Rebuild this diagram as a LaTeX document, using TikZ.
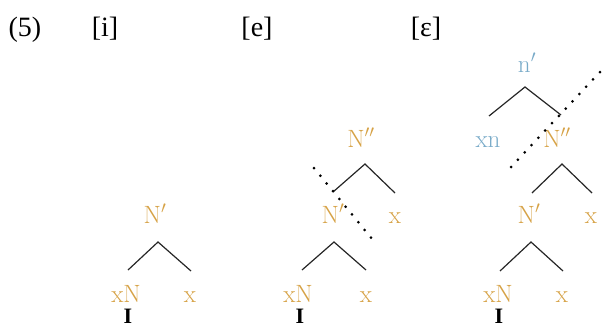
\documentclass[tikz,border=0pt]{standalone}
\usepackage{fontspec}
\newfontfamily\timesf{Liberation Serif}
\definecolor{ornC}{RGB}{214,162,70}
\definecolor{bluC}{RGB}{120,170,200}
\begin{document}
\begin{tikzpicture}[x=1pt,y=-1pt,
  lab/.style={anchor=base, inner sep=0pt, font=\fontsize{25}{25}\selectfont},
  orn/.style={lab, text=ornC},
  blu/.style={lab, text=bluC},
  hdr/.style={anchor=base, inner sep=0pt, font=\timesf\fontsize{28}{28}\selectfont},
  bar/.style={anchor=base, inner sep=0pt, font=\timesf\bfseries\fontsize{22}{22}\selectfont},
  branch/.style={line width=1.2pt, draw=black!85},
  dotline/.style={line width=3pt, line cap=round, dash pattern=on 0pt off 10pt}
]
\useasboundingbox (0,0) rectangle (603,327);
% header
\node[hdr] (h5) at (25,36) {(5)};
\node[hdr] (hi) at (105,36) {[i]};
\node[hdr] (he) at (257,36) {[e]};
\node[hdr] (heps) at (426,36) {[ε]};

% tree [i]
\node[orn] (Np1) at (155,223) {N$'$};
\node[orn] (xN1) at (126,302) {xN};
\node[orn] (x1) at (190,302) {x};
\node[bar] (I1) at (128,323) {I};
\coordinate (a1) at (158,242);
\coordinate (l1) at (128,270);
\coordinate (r1) at (191,271);
\draw[branch] (l1) -- (a1) -- (r1);

% tree [e]
\node[orn] (Npp2) at (361,147) {N$''$};
\node[orn] (Np2) at (333,223) {N$'$};
\node[orn] (x2a) at (395,223) {x};
\node[orn] (xN2) at (298,302) {xN};
\node[orn] (x2b) at (366,302) {x};
\node[bar] (I2) at (300,323) {I};
\coordinate (a2) at (365,164);
\coordinate (l2) at (333,192);
\coordinate (r2) at (395,193);
\draw[branch] (l2) -- (a2) -- (r2);
\coordinate (b2) at (334,242);
\coordinate (m2) at (302,270);
\coordinate (n2) at (366,270);
\draw[branch] (m2) -- (b2) -- (n2);
\coordinate (d2s) at (314,168);
\coordinate (d2e) at (377,245);
\draw[dotline] (d2s) -- (d2e);

% tree [epsilon]
\node[blu] (np3) at (527,72) {n$'$};
\node[blu] (xn3) at (488,147) {xn};
\node[orn] (Npp3) at (557,147) {N$''$};
\node[orn] (Np3) at (529,223) {N$'$};
\node[orn] (x3a) at (591,223) {x};
\node[orn] (xN3) at (498,302) {xN};
\node[orn] (x3b) at (562,302) {x};
\node[bar] (I3) at (499,323) {I};
\coordinate (a3) at (525,87);
\coordinate (l3) at (489,116);
\coordinate (r3) at (561,115);
\draw[branch] (l3) -- (a3) -- (r3);
\coordinate (b3) at (562,164);
\coordinate (m3) at (532,193);
\coordinate (n3) at (592,193);
\draw[branch] (m3) -- (b3) -- (n3);
\coordinate (c3) at (531,242);
\coordinate (p3) at (500,271);
\coordinate (q3) at (563,271);
\draw[branch] (p3) -- (c3) -- (q3);
\coordinate (d3s) at (511,167);
\coordinate (d3e) at (600,72);
\draw[dotline] (d3s) -- (d3e);
\end{tikzpicture}
\end{document}
